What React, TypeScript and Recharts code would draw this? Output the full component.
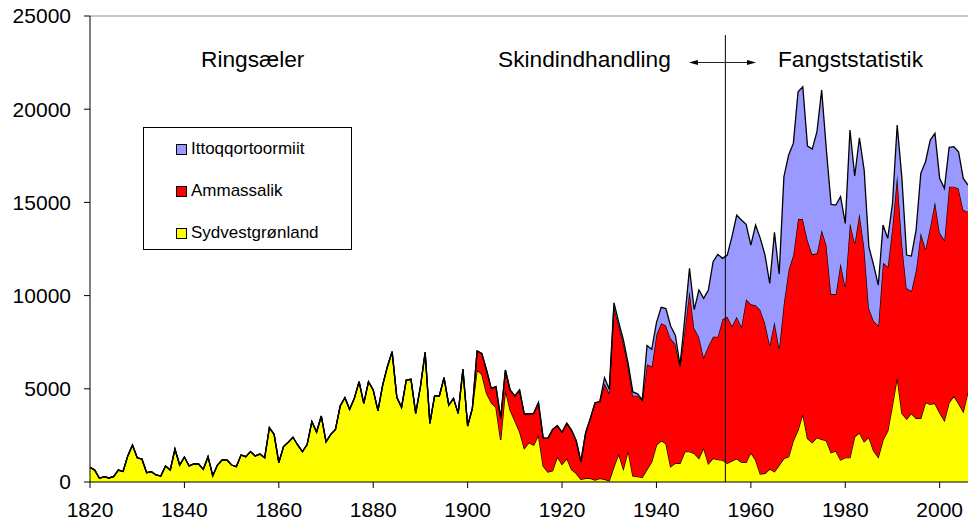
import React from 'react';
import { AreaChart, Area, XAxis, YAxis, ReferenceLine, Legend } from 'recharts';

const startYear = 1820;
const endYear = 2006;

// Sydvestgrønland, 1820-2006
const sydvest = [
  790, 640, 200, 290, 215, 290, 640, 570, 1400, 1985,
  1300, 1230, 500, 555, 375, 320, 860, 640, 1770, 910,
  1340, 860, 965, 965, 680, 1360, 340, 910, 1180, 1180,
  910, 820, 1450, 1360, 1630, 1400, 1500, 1300, 2915, 2560,
  1040, 1900, 2130, 2400, 1985, 1630, 2010, 3240, 2680, 3540,
  2160, 2560, 2825, 4077, 4523, 3898, 4488, 5382, 4220, 5382,
  4935, 3826, 5203, 6186, 6991, 4541, 4005, 5471, 5507, 3683,
  5114, 6955, 3147, 4613, 4613, 5596, 4130, 4488, 3683, 6043,
  3004, 3951, 6008, 5775, 4756, 4255, 4005, 2253, 4935, 3862,
  3290, 2700, 1806, 2110, 1985, 2521, 860, 540, 608, 1359,
  948, 1270, 680, 465, 143, 197, 197, 107, 197, 143,
  72, 822, 1502, 697, 1680, 322, 286, 250, 680, 1090,
  1985, 2217, 2074, 822, 1001, 1001, 1627, 1627, 1538, 1270,
  1830, 985, 1270, 1200, 1180, 1001, 1135, 1250, 1073, 1055,
  1580, 1180, 429, 465, 697, 554, 912, 1270, 1359, 2217,
  2789, 3648, 2342, 2110, 2378, 2289, 2217, 1573, 1663, 1180,
  1305, 1305, 2432, 2646, 2163, 2396, 1681, 1323, 2253, 2736,
  4130, 5614, 3683, 3379, 3683, 3415, 3415, 4273, 4166, 4220,
  3719, 3290, 4255, 4613, 4220, 3773, 4845,
];

// Ammassalik, from 1902 (no catch recorded before)
const ammassalikStart = 1902;
const ammassalik = [
  1019, 1127, 1252, 769, 1109, 1162, 1073, 1073,
  1323, 2235, 1842, 1538, 1698, 1734, 1510, 1800, 2217, 1663,
  1716, 1877, 2109, 1752, 948, 2449, 3218, 4148, 4112, 5149,
  4684, 8583, 6898, 6743, 4520, 4309, 4345, 4113, 5640, 5110,
  5915, 6294, 6326, 6878, 6399, 5199, 6526, 8623, 6705, 6526,
  4857, 6310, 6526, 6596, 7545, 7867, 7233, 7618, 7259, 8743,
  7950, 8296, 8797, 8046, 6652, 8046, 6258, 8314, 10013, 9959,
  11318, 10459, 10639, 10102, 9888, 11228, 10496, 8511, 8421, 10549,
  9173, 12606, 10370, 11765, 10460, 6920, 6973, 7063, 9512, 8815,
  9566, 10853, 9119, 7009, 6562, 7957, 9959, 8225, 9530, 10817,
  9655, 9691, 11587, 11229, 11532, 10817, 9656,
];

// Ittoqqortoormiit, from 1929
const ittoqStart = 1929;
const ittoq = [
  304, 214,
  214, 180, 180, 170, 200, 100, 40, 1000, 920,
  650, 860, 900, 670, 480, 50, 626, 1211, 1000, 2503,
  3165, 3004, 4023, 4416, 3273, 3308, 4792, 5454, 5722, 4023,
  3183, 4310, 3844, 3665, 3307, 4792, 3987, 6794, 6168, 5990,
  6831, 7099, 5042, 5650, 6526, 7510, 5096, 4810, 4774, 3576,
  3397, 4970, 3612, 4059, 4113, 3307, 2986, 2181, 2020, 1519,
  1251, 2683, 3487, 1788, 1878, 2145, 3183, 4685, 4649, 3665,
  2915, 2771, 2110, 2145, 1967, 1699, 1430,
];

const xTicks = [1820, 1840, 1860, 1880, 1900, 1920, 1940, 1960, 1980, 2000];
const yTicks = [0, 5000, 10000, 15000, 20000, 25000];

const series = [
  { key: 'Sydvestgrønland', color: '#FFFF00' },
  { key: 'Ammassalik', color: '#FF0000' },
  { key: 'Ittoqqortoormiit', color: '#9999FF' },
];

const data = sydvest.map((v, i) => {
  const year = startYear + i;
  return {
    year,
    'Sydvestgrønland': v,
    'Ammassalik': year >= ammassalikStart ? ammassalik[year - ammassalikStart] : 0,
    'Ittoqqortoormiit': year >= ittoqStart ? ittoq[year - ittoqStart] : 0,
  };
});

const W = 969;
const H = 525;
const FONT = '"Liberation Sans", Arial, sans-serif';

const LegendBox = () => {
  const items = [...series].reverse();
  return (
    <div
      style={{
        position: 'relative',
        width: 209,
        height: 123,
        border: '1px solid #000',
        boxSizing: 'border-box',
        background: '#fff',
        fontFamily: FONT,
        fontSize: 17,
        color: '#000',
      }}
    >
      {items.map((s, i) => (
        <div
          key={s.key}
          style={{ position: 'absolute', left: 32, top: 10 + i * 42, height: 22, display: 'flex', alignItems: 'center' }}
        >
          <span
            style={{
              display: 'inline-block',
              width: 11,
              height: 11,
              background: s.color,
              border: '1px solid #000',
              boxSizing: 'border-box',
              marginRight: 4,
            }}
          />
          <span style={{ lineHeight: '22px', whiteSpace: 'nowrap' }}>{s.key}</span>
        </div>
      ))}
    </div>
  );
};

export default function App() {
  return (
    <div style={{ position: 'absolute', left: 0, top: 0, width: W, height: H, background: '#fff', fontFamily: FONT }}>
      <AreaChart width={W} height={H} data={data} margin={{ top: 16, right: 1, bottom: 0, left: 0 }}>
        <XAxis
          type="number"
          dataKey="year"
          domain={[startYear, endYear]}
          ticks={xTicks}
          interval={0}
          height={43}
          tickSize={6}
          tickMargin={14}
          stroke="#000"
          tick={{ fill: '#000', fontSize: 21, fontFamily: FONT }}
          allowDataOverflow
        />
        <YAxis
          domain={[0, 25000]}
          ticks={yTicks}
          interval={0}
          width={90}
          tickSize={6}
          tickMargin={13}
          stroke="#000"
          tick={{ fill: '#000', fontSize: 21, fontFamily: FONT }}
        />
        <ReferenceLine y={25000} stroke="#8c8c8c" strokeWidth={1} />
        {series.map((s) => (
          <Area
            key={s.key}
            type="linear"
            dataKey={s.key}
            stackId="1"
            stroke="#000"
            strokeWidth={1.3}
            fill={s.color}
            fillOpacity={1}
            isAnimationActive={false}
            dot={false}
            activeDot={false}
          />
        ))}
        <ReferenceLine
          segment={[{ x: 1954.6, y: 0 }, { x: 1954.6, y: 23980 }]}
          stroke="#000"
          strokeWidth={1}
        />
        <Legend
          layout="vertical"
          align="center"
          verticalAlign="middle"
          content={() => <LegendBox />}
          wrapperStyle={{ position: 'absolute', left: 143, top: 127, width: 209, height: 123 }}
        />
      </AreaChart>
      <svg
        width={W}
        height={H}
        style={{ position: 'absolute', left: 0, top: 0, pointerEvents: 'none' }}
      >
        <g fontFamily={FONT} fontSize={22.7} fill="#000">
          <text x={201} y={67}>Ringsæler</text>
          <text x={498} y={67}>Skindindhandling</text>
          <text x={778} y={67}>Fangststatistik</text>
        </g>
        <line x1={695} y1={62.5} x2={750} y2={62.5} stroke="#222" strokeWidth={1.2} />
        <polygon points="689,62.5 698,60 698,65" fill="#000" />
        <polygon points="756,62.5 747,60 747,65" fill="#000" />
      </svg>
    </div>
  );
}
